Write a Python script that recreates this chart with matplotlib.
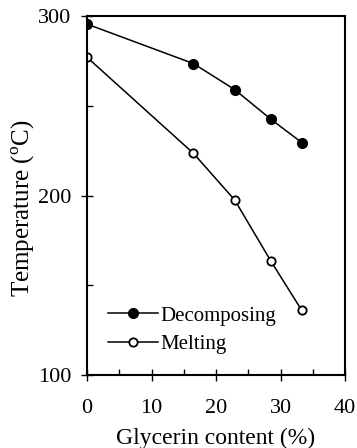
import numpy as np
import matplotlib.pyplot as plt
from matplotlib.ticker import MultipleLocator

plt.rcParams['font.family'] = ['Liberation Serif', 'DejaVu Serif']
plt.rcParams['mathtext.fontset'] = 'custom'
plt.rcParams['mathtext.rm'] = 'Liberation Serif'

# glycerin content (%) and temperatures (C)
glycerin = [0, 16.5, 22.9, 28.5, 33.3]
decomposing = [295.5, 273.5, 259, 242.5, 229.5]
melting = [277, 223.5, 197.5, 163.5, 136]

fig = plt.figure(figsize=(3.57, 4.48), dpi=100)
ax = fig.add_axes([0.2437, 0.1629, 0.7227, 0.8014])

ax.plot(glycerin, decomposing, color='black', lw=1.1, marker='o', ms=7,
        mfc='black', mec='black', label='Decomposing')
ax.plot(glycerin, melting, color='black', lw=1.1, marker='o', ms=6,
        mfc='white', mec='black', mew=1.3, label='Melting')

ax.set_xlim(0, 40)
ax.set_ylim(100, 300)
ax.xaxis.set_major_locator(MultipleLocator(10))
ax.xaxis.set_minor_locator(MultipleLocator(5))
ax.yaxis.set_major_locator(MultipleLocator(100))
ax.yaxis.set_minor_locator(MultipleLocator(50))
ax.tick_params(which='major', direction='inout', length=9, width=1.0,
               labelsize=16)
ax.tick_params(axis='x', pad=13)
ax.tick_params(axis='y', pad=7)
ax.tick_params(which='minor', direction='in', length=4, width=1.0)
for s in ax.spines.values():
    s.set_linewidth(1.5)

ax.set_xlabel('Glycerin content (%)', fontsize=17, labelpad=7)
ax.set_ylabel(r'Temperature ($^{\rm o}$C)', fontsize=18, va='center')
ax.yaxis.set_label_coords(-0.245, 0.465)

ax.legend(loc='lower left', bbox_to_anchor=(0.048, 0.034), frameon=False,
          fontsize=15, handlelength=2.4, handletextpad=0.15, labelspacing=0.45,
          borderaxespad=0)

fig.savefig('out.png', dpi=100)
